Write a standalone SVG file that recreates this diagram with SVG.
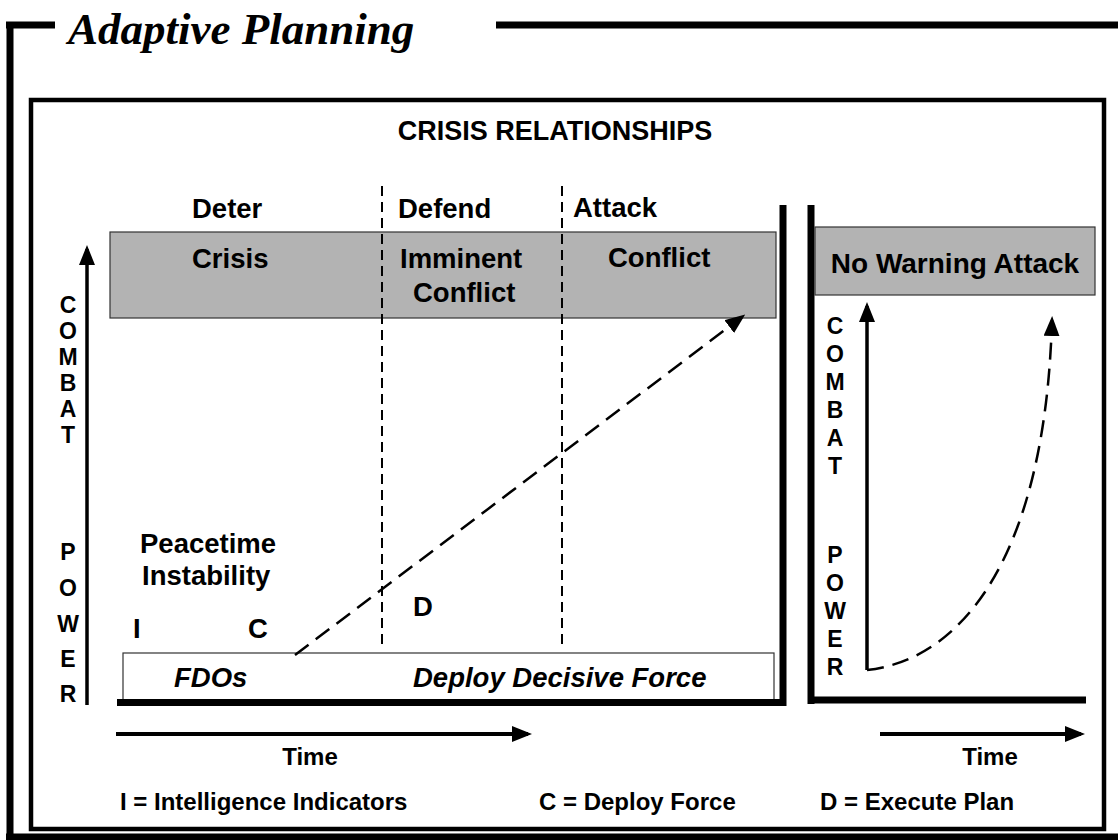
<svg xmlns="http://www.w3.org/2000/svg" width="1118" height="840" viewBox="0 0 1118 840">
<style>
.t{font-family:"Liberation Sans",Arial,sans-serif;font-weight:bold;fill:#000}
.big{font-size:27.5px}
.ax{font-size:23px;text-anchor:middle}
.leg{font-size:24px}
.it{font-style:italic}
.thick{stroke:#000;stroke-width:7;fill:none}
.dash{stroke:#000;stroke-width:2;stroke-dasharray:10 6;fill:none}
.dashA{stroke:#000;stroke-width:2.5;stroke-dasharray:17 9;fill:none}
.band{fill:#b3b3b3;stroke:#333;stroke-width:1.2}
</style>
<defs>
<marker id="ah" viewBox="0 0 20 16" refX="16" refY="8" markerWidth="20" markerHeight="16" markerUnits="userSpaceOnUse" orient="auto">
<path d="M0,0 L20,8 L0,16 Z" fill="#000"/>
</marker>
</defs>
<rect width="1118" height="840" fill="#fff"/>

<g id="frame">
<path class="thick" d="M6 25 H55 M496 25 H1118 M10 21.5 V840 M6 837 H1118"/>
<text x="68" y="44" style="font-family:'Liberation Serif','Times New Roman',serif;font-weight:bold;font-style:italic;font-size:45px">Adaptive Planning</text>
<rect x="31" y="100" width="1073" height="729" fill="none" stroke="#000" stroke-width="4.5"/>
<text class="t" style="font-size:27px" x="555" y="140" text-anchor="middle">CRISIS RELATIONSHIPS</text>
</g>

<g id="left-panel">
<rect class="band" x="110" y="232" width="666" height="86"/>
<rect x="123" y="653" width="651" height="50" fill="#fff" stroke="#333" stroke-width="1.2"/>
<path class="thick" d="M783 205 V706 M117 702.5 H786.5"/>
</g>

<g id="phase-labels">
<text class="t big" x="192" y="218">Deter</text>
<text class="t big" x="398" y="218">Defend</text>
<text class="t big" x="573" y="217">Attack</text>
</g>

<g id="crisis"><text class="t big" x="192" y="268">Crisis</text></g>
<g id="imminent"><text class="t big" x="400" y="268">Imminent</text><text class="t big" x="413" y="302">Conflict</text></g>
<g id="conflict"><text class="t big" x="608" y="267">Conflict</text></g>
<g id="peacetime"><text class="t big" x="140" y="553">Peacetime</text><text class="t big" x="142" y="585">Instability</text></g>
<g id="markers">
<text class="t big" x="133" y="638">I</text>
<text class="t big" x="248" y="638">C</text>
<text class="t big" x="413" y="616">D</text>
</g>
<g id="fdos"><text class="t big it" x="174" y="687">FDOs</text></g>
<g id="deploy"><text class="t big it" x="413" y="687">Deploy Decisive Force</text></g>

<g id="left-axis">
<text class="t ax" x="68" y="313">C</text>
<text class="t ax" x="68" y="339">O</text>
<text class="t ax" x="68" y="365">M</text>
<text class="t ax" x="68" y="391">B</text>
<text class="t ax" x="68" y="417">A</text>
<text class="t ax" x="68" y="443">T</text>
<text class="t ax" x="68" y="560">P</text>
<text class="t ax" x="68" y="596">O</text>
<text class="t ax" x="68" y="632">W</text>
<text class="t ax" x="68" y="667">E</text>
<text class="t ax" x="68" y="702">R</text>
</g>

<g id="right-panel">
<path class="thick" d="M811 205 V704 M807.5 700 H1086"/>
<rect class="band" x="815" y="227" width="280" height="68"/>
<text class="t" style="font-size:28px" x="955" y="273" text-anchor="middle">No Warning Attack</text>
</g>

<g id="right-axis">
<text class="t ax" x="835" y="334">C</text>
<text class="t ax" x="835" y="362">O</text>
<text class="t ax" x="835" y="390">M</text>
<text class="t ax" x="835" y="418">B</text>
<text class="t ax" x="835" y="446">A</text>
<text class="t ax" x="835" y="474">T</text>
<text class="t ax" x="835" y="563">P</text>
<text class="t ax" x="835" y="591">O</text>
<text class="t ax" x="835" y="619">W</text>
<text class="t ax" x="835" y="647">E</text>
<text class="t ax" x="835" y="675">R</text>
</g>

<g id="time-axes">
<text class="t leg" x="310" y="765" text-anchor="middle">Time</text>
<text class="t leg" x="990" y="765" text-anchor="middle">Time</text>
</g>

<g id="legend">
<text class="t leg" x="120" y="810">I = Intelligence Indicators</text>
<text class="t leg" x="539" y="810">C = Deploy Force</text>
<text class="t leg" x="820" y="810">D = Execute Plan</text>
</g>

<g id="connectors">
<path class="dash" d="M382 186 V645 M562 186 V645"/>
<path d="M87 705 V249" stroke="#000" stroke-width="3.5" marker-end="url(#ah)"/>
<path d="M867 670 V306" stroke="#000" stroke-width="3.5" marker-end="url(#ah)"/>
<path class="dashA" d="M295 655 L742 317" marker-end="url(#ah)"/>
<path class="dashA" d="M867 670 C960 660 1045 560 1052 320" marker-end="url(#ah)"/>
<path d="M116 734 H528" stroke="#000" stroke-width="4" marker-end="url(#ah)"/>
<path d="M880 734 H1081" stroke="#000" stroke-width="4" marker-end="url(#ah)"/>
</g>
</svg>
